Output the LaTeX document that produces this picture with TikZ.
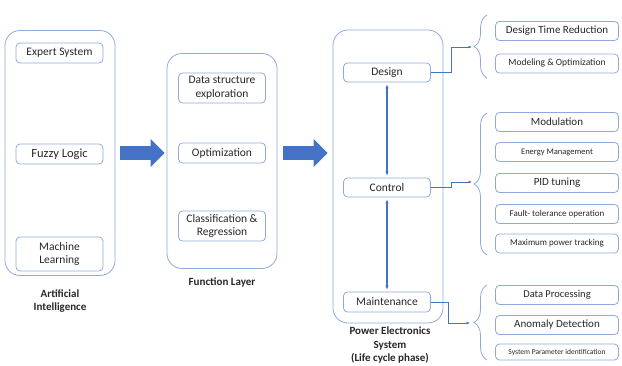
\documentclass[tikz,border=0pt]{standalone}
\usepackage{fontspec}
\setmainfont{Carlito}
\usetikzlibrary{arrows.meta,decorations.pathreplacing}
\definecolor{boxline}{HTML}{8EA9DB}
\definecolor{flowblue}{HTML}{4472C4}
\definecolor{textgrey}{HTML}{262626}
\newcommand{\fs}[1]{\fontsize{#1}{1.2\dimexpr#1pt\relax}\selectfont}

\begin{document}
\begin{tikzpicture}[
  x=1pt,
  y=-1pt,
  every node/.style={font=\fs{11.5}, text=textgrey},
  panel/.style={draw=boxline, line width=0.8pt, rounded corners=15pt},
  item/.style={draw=boxline, line width=0.8pt, rounded corners=4pt,
    inner sep=1pt, align=center, minimum width=87pt, minimum height=19pt},
  wide/.style={item, minimum width=123pt},
  caption/.style={font=\fs{11}\bfseries, align=center},
  bigflow/.style={flowblue, line width=14pt, -{Triangle[width=27pt, length=14pt]}},
  link/.style={flowblue, line width=0.7pt, -{Latex[length=3.5pt, width=3pt]}},
  twoway/.style={flowblue, line width=1.2pt,
    {Latex[length=4pt, width=3.5pt]}-{Latex[length=4pt, width=3.5pt]},
    shorten <=2pt, shorten >=2pt},
  curly/.style={boxline, line width=0.8pt, decorate, decoration={brace, amplitude=13pt}}
]
  % ---- page --------------------------------------------------------------
  \useasboundingbox (0,0) rectangle (622,365);

  % ---- artificial intelligence -------------------------------------------
  \node[panel, minimum width=110pt, minimum height=245pt] (ai) at (60,153) {};
  \node[item, minimum height=20pt] (es) at (59.5,53) {Expert System};
  \node[item, minimum height=20pt, font=\fs{12.5}] (fz) at (59.5,154) {Fuzzy Logic};
  \node[item, minimum height=34pt] (ml) at (59.5,254) {Machine\\Learning};
  \node[caption] (ailbl) at (60,301) {Artificial\\Intelligence};

  % ---- function layer ----------------------------------------------------
  \node[panel, minimum width=110pt, minimum height=215pt] (fl) at (222,161) {};
  \node[item, minimum height=30pt] (dse) at (222,88) {Data structure\\exploration};
  \node[item, minimum height=20pt] (opt) at (222,153) {Optimization};
  \node[item, minimum height=30pt] (cr) at (222,226) {Classification \&\\Regression};
  \node[caption] (fllbl) at (222,282) {Function Layer};

  % ---- power electronics system ------------------------------------------
  \node[panel, minimum width=110pt, minimum height=293pt] (pe) at (388,176.5) {};
  \node[item] (des) at (387,72.5) {Design};
  \node[item] (ctl) at (387,187.5) {Control};
  \node[item, minimum height=20pt] (mnt) at (387,302) {Maintenance};
  \node[caption] (pelbl) at (390,345) {Power Electronics\\System\\(Life cycle phase)};

  % ---- layer to layer ----------------------------------------------------
  \draw[bigflow, shorten <=5pt, shorten >=2pt] (ai.east |- opt.center) -- (fl.west |- opt.center);
  \draw[bigflow, shorten <=6pt, shorten >=5pt] (fl.east |- opt.center) -- (pe.west |- opt.center);

  % ---- phase to phase ----------------------------------------------------
  \draw[twoway] (des.south) -- (ctl.north);
  \draw[twoway] (ctl.south) -- (mnt.north);

  % ---- design tasks ------------------------------------------------------
  \node[wide, font=\fs{11}] (dtr) at (557,31) {Design Time Reduction};
  \node[wide, font=\fs{9.5}] (mo) at (557,63.5) {Modeling \& Optimization};
  \coordinate (bd) at (472,47);
  \draw[curly] (487,78) -- (487,15);
  \draw[link] (des.east) -- ++(20,0) |- (bd);

  % ---- control tasks -----------------------------------------------------
  \node[wide, font=\fs{11}] (mod) at (557,122) {Modulation};
  \node[wide, font=\fs{8.5}] (em) at (557,152) {Energy Management};
  \node[wide, font=\fs{11}] (pid) at (557,183) {PID tuning};
  \node[wide, font=\fs{9}] (ft) at (557,214) {Fault- tolerance operation};
  \node[wide, font=\fs{9}] (mp) at (557,243.5) {Maximum power tracking};
  \coordinate (bc) at (472,182);
  \draw[curly] (487,255) -- (487,113);
  \draw[link] (ctl.east) -- ++(20,0) |- (bc);

  % ---- maintenance tasks -------------------------------------------------
  \node[wide, font=\fs{10.5}] (dp) at (557,295) {Data Processing};
  \node[wide, font=\fs{11}] (ad) at (557,325) {Anomaly Detection};
  \node[wide, font=\fs{7.5}, minimum height=16pt] (spi) at (557,352) {System Parameter identification};
  \coordinate (bm) at (470,323);
  \draw[curly] (487,360) -- (487,285);
  \draw[link] (mnt.east) -- ++(17,0) |- (bm);
\end{tikzpicture}
\end{document}
